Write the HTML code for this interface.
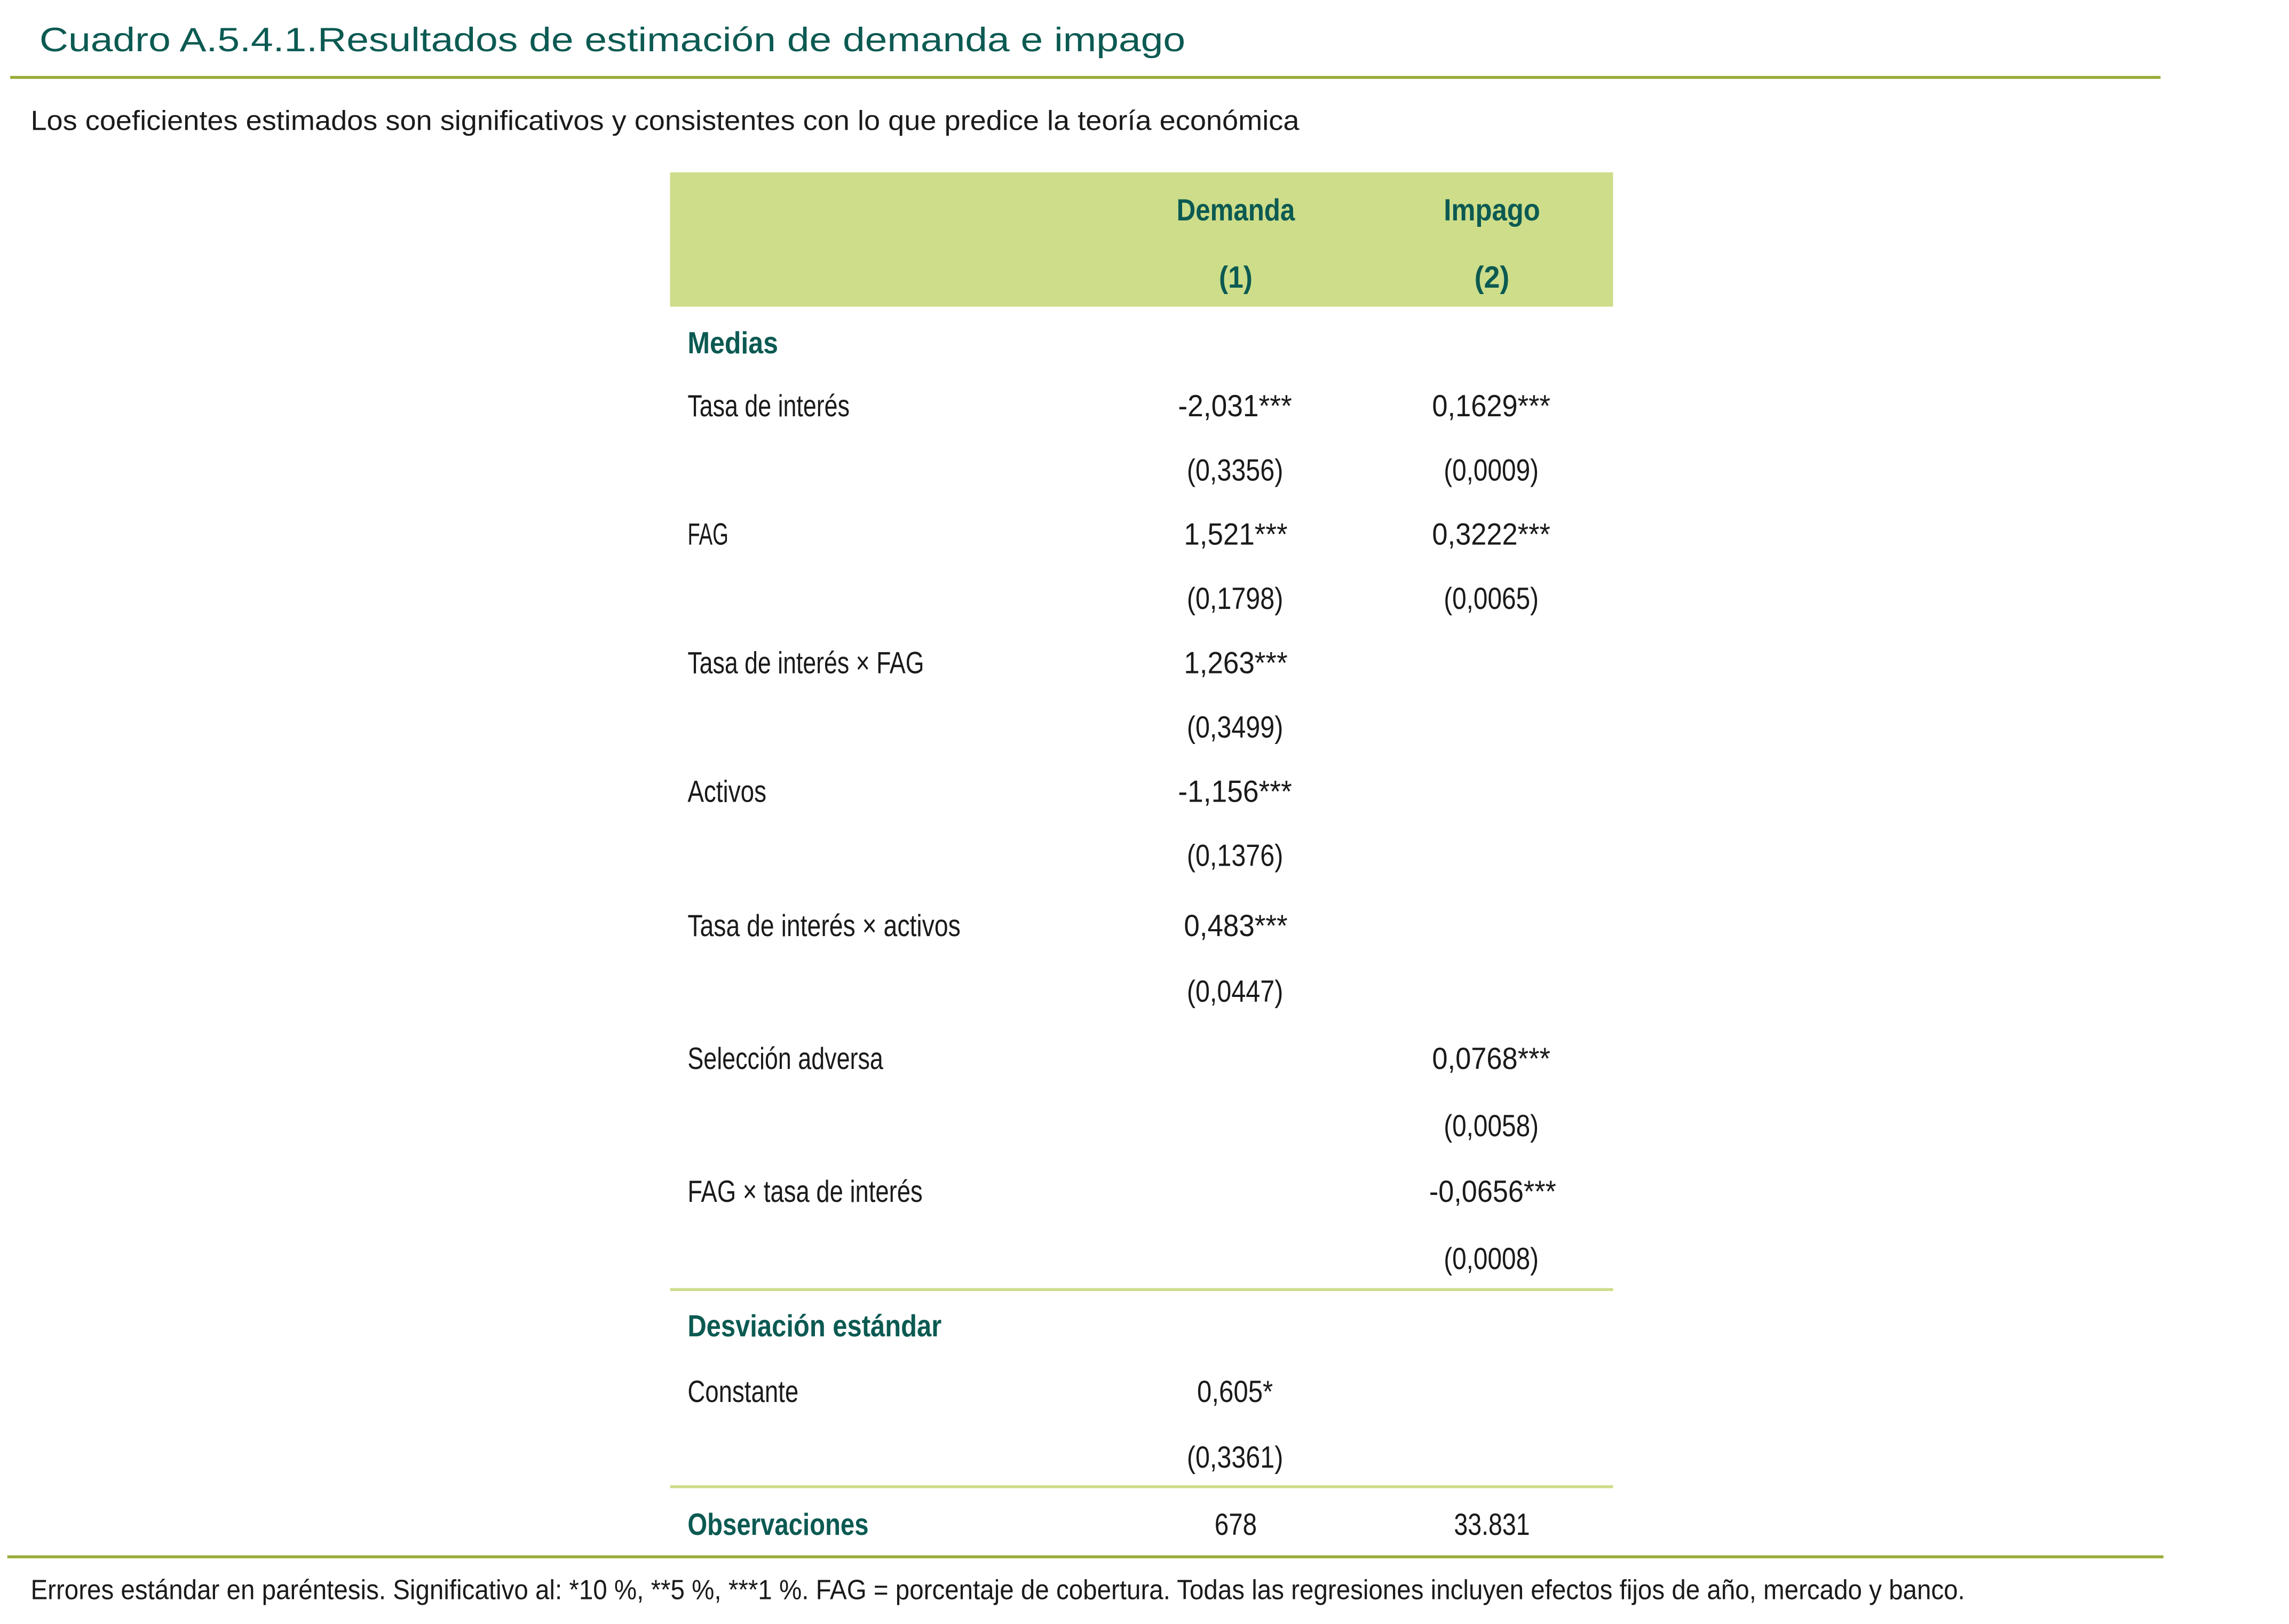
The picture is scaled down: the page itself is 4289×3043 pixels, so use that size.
<!DOCTYPE html>
<html><head><meta charset="utf-8"><style>
html,body{margin:0;padding:0;background:#fff;width:4289px;height:3043px;overflow:hidden}
svg{display:block}
text{font-family:"Liberation Sans",sans-serif}
.t{fill:#0b5a52}
.b{fill:#1a1a1a}
.h{fill:#0b5a52;font-weight:bold}
</style></head><body>
<svg width="4289" height="3043" viewBox="0 0 1568 1112" preserveAspectRatio="none">
<text x="27" y="35" font-size="23" class="t" textLength="785" lengthAdjust="spacingAndGlyphs">Cuadro A.5.4.1.Resultados de estimación de demanda e impago</text>
<rect x="7" y="52" width="1473" height="2" fill="#9aab3a"/>
<text x="21" y="89" font-size="19" class="b" textLength="869" lengthAdjust="spacingAndGlyphs">Los coeficientes estimados son significativos y consistentes con lo que predice la teoría económica</text>
<rect x="459" y="118" width="646" height="92" fill="#cddd8a"/>
<g font-size="21">
<text x="806" y="151" class="h" textLength="81" lengthAdjust="spacingAndGlyphs">Demanda</text>
<text x="989" y="151" class="h" textLength="66" lengthAdjust="spacingAndGlyphs">Impago</text>
<text x="835" y="197" class="h" textLength="23" lengthAdjust="spacingAndGlyphs">(1)</text>
<text x="1010" y="197" class="h" textLength="24" lengthAdjust="spacingAndGlyphs">(2)</text>
<text x="471" y="242" class="h" textLength="62" lengthAdjust="spacingAndGlyphs">Medias</text>
<text x="471" y="915" class="h" textLength="174" lengthAdjust="spacingAndGlyphs">Desviación estándar</text>
<text x="471" y="1051" class="h" textLength="124" lengthAdjust="spacingAndGlyphs">Observaciones</text>
<g class="b">
<text x="471" y="285" textLength="111" lengthAdjust="spacingAndGlyphs">Tasa de interés</text>
<text x="471" y="373" textLength="28" lengthAdjust="spacingAndGlyphs">FAG</text>
<text x="471" y="461" textLength="162" lengthAdjust="spacingAndGlyphs">Tasa de interés × FAG</text>
<text x="471" y="549" textLength="54" lengthAdjust="spacingAndGlyphs">Activos</text>
<text x="471" y="641" textLength="187" lengthAdjust="spacingAndGlyphs">Tasa de interés × activos</text>
<text x="471" y="732" textLength="134" lengthAdjust="spacingAndGlyphs">Selección adversa</text>
<text x="471" y="823" textLength="161" lengthAdjust="spacingAndGlyphs">FAG × tasa de interés</text>
<text x="471" y="960" textLength="76" lengthAdjust="spacingAndGlyphs">Constante</text>

<text x="807" y="285" textLength="78" lengthAdjust="spacingAndGlyphs">-2,031***</text>
<text x="813" y="329" textLength="66" lengthAdjust="spacingAndGlyphs">(0,3356)</text>
<text x="811" y="373" textLength="71" lengthAdjust="spacingAndGlyphs">1,521***</text>
<text x="813" y="417" textLength="66" lengthAdjust="spacingAndGlyphs">(0,1798)</text>
<text x="811" y="461" textLength="71" lengthAdjust="spacingAndGlyphs">1,263***</text>
<text x="813" y="505" textLength="66" lengthAdjust="spacingAndGlyphs">(0,3499)</text>
<text x="807" y="549" textLength="78" lengthAdjust="spacingAndGlyphs">-1,156***</text>
<text x="813" y="593" textLength="66" lengthAdjust="spacingAndGlyphs">(0,1376)</text>
<text x="811" y="641" textLength="71" lengthAdjust="spacingAndGlyphs">0,483***</text>
<text x="813" y="686" textLength="66" lengthAdjust="spacingAndGlyphs">(0,0447)</text>
<text x="820" y="960" textLength="52" lengthAdjust="spacingAndGlyphs">0,605*</text>
<text x="813" y="1005" textLength="66" lengthAdjust="spacingAndGlyphs">(0,3361)</text>
<text x="832" y="1051" textLength="29" lengthAdjust="spacingAndGlyphs">678</text>

<text x="981" y="285" textLength="81" lengthAdjust="spacingAndGlyphs">0,1629***</text>
<text x="989" y="329" textLength="65" lengthAdjust="spacingAndGlyphs">(0,0009)</text>
<text x="981" y="373" textLength="81" lengthAdjust="spacingAndGlyphs">0,3222***</text>
<text x="989" y="417" textLength="65" lengthAdjust="spacingAndGlyphs">(0,0065)</text>
<text x="981" y="732" textLength="81" lengthAdjust="spacingAndGlyphs">0,0768***</text>
<text x="989" y="778" textLength="65" lengthAdjust="spacingAndGlyphs">(0,0058)</text>
<text x="979" y="823" textLength="87" lengthAdjust="spacingAndGlyphs">-0,0656***</text>
<text x="989" y="869" textLength="65" lengthAdjust="spacingAndGlyphs">(0,0008)</text>
<text x="996" y="1051" textLength="52" lengthAdjust="spacingAndGlyphs">33.831</text>
</g>
</g>
<rect x="459" y="882" width="646" height="2" fill="#cddd8a"/>
<rect x="459" y="1017" width="646" height="2" fill="#cddd8a"/>
<rect x="5" y="1065" width="1477" height="2" fill="#9aab3a"/>
<text x="21" y="1095" font-size="19" class="b" textLength="1325" lengthAdjust="spacingAndGlyphs">Errores estándar en paréntesis. Significativo al: *10 %, **5 %, ***1 %. FAG = porcentaje de cobertura. Todas las regresiones incluyen efectos fijos de año, mercado y banco.</text>
</svg>
</body></html>
